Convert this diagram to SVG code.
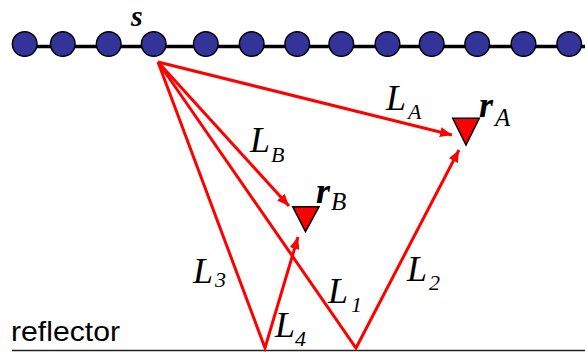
<svg xmlns="http://www.w3.org/2000/svg" width="585" height="352" viewBox="0 0 585 352">
<style>
.node{fill:#333399;stroke:#000;stroke-width:1.5}
.ray{stroke:#ff0000;stroke-width:3;fill:none}
.rcv{fill:#ff0000;stroke:#000;stroke-width:1.5;stroke-linejoin:miter}
</style>
<defs>
<marker id="ah" viewBox="0 0 12 10" refX="12" refY="5" markerWidth="12" markerHeight="10" markerUnits="userSpaceOnUse" orient="auto">
<path d="M0,0 L12,5 L0,10 z" fill="#ff0000"/>
</marker>
</defs>
<rect width="585" height="352" fill="#fff"/>
<g id="array">
<line x1="14" y1="46.5" x2="585" y2="46.5" stroke="#000" stroke-width="3.5"/>
<circle class="node" cx="24.7" cy="44" r="12.3"/>
<circle class="node" cx="62.8" cy="44" r="12.3"/>
<circle class="node" cx="108.7" cy="44" r="12.3"/>
<circle class="node" cx="153.7" cy="44" r="12.3"/>
<circle class="node" cx="205.8" cy="44" r="12.3"/>
<circle class="node" cx="251.7" cy="44" r="12.3"/>
<circle class="node" cx="297.2" cy="44" r="12.3"/>
<circle class="node" cx="341.3" cy="44" r="12.3"/>
<circle class="node" cx="387.5" cy="44" r="12.3"/>
<circle class="node" cx="431.7" cy="44" r="12.3"/>
<circle class="node" cx="477.2" cy="44" r="12.3"/>
<circle class="node" cx="523.5" cy="44" r="12.3"/>
<circle class="node" cx="569.2" cy="44" r="12.3"/>
<text x="131" y="26" font-family="Liberation Serif, serif" font-style="italic" font-weight="bold" font-size="30">s</text>
</g>
<g id="reflector">
<line x1="12" y1="350.5" x2="585" y2="350.5" stroke="#222" stroke-width="1.5"/>
<text x="11" y="340.5" font-family="Liberation Sans, sans-serif" font-size="27" textLength="109" lengthAdjust="spacingAndGlyphs" fill="#000">reflector</text>
</g>
<g id="connectors">
<line class="ray" x1="158" y1="62" x2="452" y2="135" marker-end="url(#ah)"/>
<line class="ray" x1="158" y1="62" x2="289" y2="206" marker-end="url(#ah)"/>
<polyline class="ray" points="158,62 265,348 298,237" marker-end="url(#ah)"/>
<polyline class="ray" points="158,62 356,348 459,150" marker-end="url(#ah)"/>
</g>
<g id="receiverA">
<polygon class="rcv" points="452.7,118.3 479.3,118.3 466,145"/>
<text x="479" y="117" font-family="Liberation Serif, serif" font-style="italic" font-weight="bold" font-size="36">r</text>
<text x="495" y="126" font-family="Liberation Serif, serif" font-style="italic" font-size="25">A</text>
</g>
<g id="receiverB">
<polygon class="rcv" points="292.7,206.7 319,206.7 305.5,231.7"/>
<text x="316" y="203" font-family="Liberation Serif, serif" font-style="italic" font-weight="bold" font-size="36">r</text>
<text x="331" y="210" font-family="Liberation Serif, serif" font-style="italic" font-size="25">B</text>
</g>
<g id="labels" font-family="Liberation Serif, serif" font-style="italic" font-size="36">
<text x="386" y="110">L<tspan font-size="22" x="408" y="119">A</tspan></text>
<text x="250" y="152">L<tspan font-size="22" x="271" y="162">B</tspan></text>
<text x="193" y="283">L<tspan font-size="22" x="215" y="287">3</tspan></text>
<text x="328" y="303">L<tspan font-size="22" x="351" y="312">1</tspan></text>
<text x="275" y="337">L<tspan font-size="22" x="295" y="346">4</tspan></text>
<text x="407" y="281">L<tspan font-size="22" x="429" y="290">2</tspan></text>
</g>
</svg>
